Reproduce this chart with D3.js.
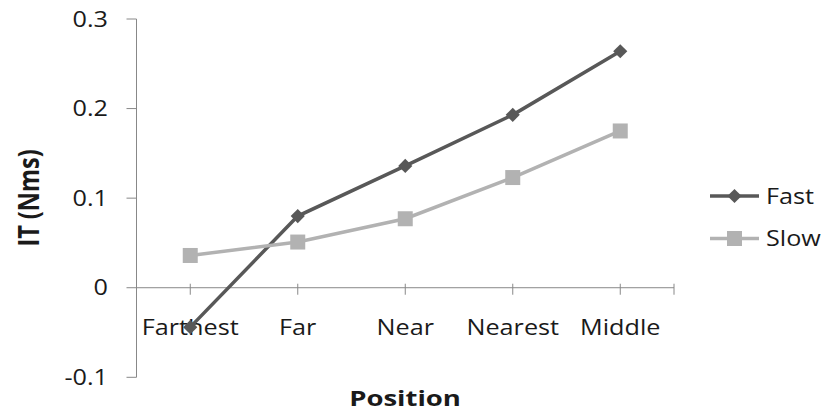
<!DOCTYPE html>
<html><head><meta charset="utf-8">
<script src="https://cdn.jsdelivr.net/npm/d3@7"></script>
<style>body{margin:0;background:#fff}svg{display:block}text{font-family:"Open Sans",sans-serif}</style>
</head><body>
<svg id="c" width="822" height="413"></svg>
<script>
const categories = ["Farthest", "Far", "Near", "Nearest", "Middle"];
const fastValues = [-0.044, 0.080, 0.136, 0.193, 0.264];
const slowValues = [0.036, 0.051, 0.077, 0.123, 0.175];
const yTicks = [-0.1, 0, 0.1, 0.2, 0.3];
const yTickLabels = ["-0.1", "0", "0.1", "0.2", "0.3"];
const seriesNames = ["Fast", "Slow"];
const seriesColors = ["#585858", "#b2b2b2"];

const svg = d3.select("#c");
const SX = 1.2; // horizontal stretch of text
const x0 = 136.5, x1 = 674, yTop = 19, yBot = 377.3;
const x = d3.scaleBand().domain(categories).range([x0, x1]);
const y = d3.scaleLinear().domain([-0.1, 0.3]).range([yBot, yTop]);
const axisColor = "#888";

function stext(g, px, py, str, anchor, opts = {}) {
  return g.append("text")
    .attr("transform", `translate(${px},${py}) scale(${opts.sx || SX},1)`)
    .attr("text-anchor", anchor)
    .attr("font-size", opts.size || 21)
    .attr("font-weight", opts.weight || "normal")
    .attr("fill", opts.fill || "#1a1a1a")
    .text(str);
}

// y axis
const ax = svg.append("g");
ax.append("line").attr("x1", x0).attr("x2", x0).attr("y1", y(0.3)).attr("y2", y(-0.1))
  .attr("stroke", axisColor).attr("stroke-width", 1);
yTicks.forEach((v, i) => {
  ax.append("line").attr("x1", x0 - 10).attr("x2", x0).attr("y1", y(v)).attr("y2", y(v))
    .attr("stroke", axisColor);
  stext(ax, 108, y(v) + 7.5, yTickLabels[i], "end");
});
// x axis at 0
ax.append("line").attr("x1", x0).attr("x2", x1).attr("y1", y(0)).attr("y2", y(0)).attr("stroke", axisColor);
const tickXs = categories.map(c => x(c) + x.bandwidth() / 2).concat([x1]);
tickXs.forEach(tx => {
  ax.append("line").attr("x1", tx).attr("x2", tx).attr("y1", y(0) - 4).attr("y2", y(0) + 7).attr("stroke", axisColor);
});
categories.forEach(c => {
  stext(ax, x(c) + x.bandwidth() / 2, 335, c, "middle");
});

// titles
stext(svg, 405, 406, "Position", "middle", {weight: "bold", size: 22, sx: 1.25});
svg.append("text")
  .attr("transform", `translate(39,198) rotate(-90) scale(1,${SX})`)
  .attr("text-anchor", "middle").attr("font-size", 23.5).attr("font-weight", "bold").attr("fill", "#1a1a1a")
  .text("IT (Nms)");

// series
const data = [fastValues, slowValues];
const line = d3.line().x((d, i) => x(categories[i]) + x.bandwidth() / 2).y(d => y(d));
function marker(g, si, cx, cy) {
  if (si === 0) {
    g.append("path").attr("d", d3.symbol().type(d3.symbolSquare).size(100)())
      .attr("transform", `translate(${cx},${cy}) rotate(45)`).attr("fill", seriesColors[si]);
  } else {
    g.append("rect").attr("x", cx - 7.5).attr("y", cy - 7.5).attr("width", 15).attr("height", 15)
      .attr("fill", seriesColors[si]);
  }
}
data.forEach((vals, si) => {
  const g = svg.append("g");
  g.append("path").attr("d", line(vals)).attr("fill", "none")
    .attr("stroke", seriesColors[si]).attr("stroke-width", 3.5);
  vals.forEach((v, i) => marker(g, si, x(categories[i]) + x.bandwidth() / 2, y(v)));
});

// legend
const lg = svg.append("g");
const legY = [196, 238.5];
seriesNames.forEach((n, i) => {
  lg.append("line").attr("x1", 710).attr("x2", 759).attr("y1", legY[i]).attr("y2", legY[i])
    .attr("stroke", seriesColors[i]).attr("stroke-width", 3.5);
  marker(lg, i, 734.5, legY[i]);
  stext(lg, 766, legY[i] + 7.5, n, "start");
});
</script>
</body></html>
